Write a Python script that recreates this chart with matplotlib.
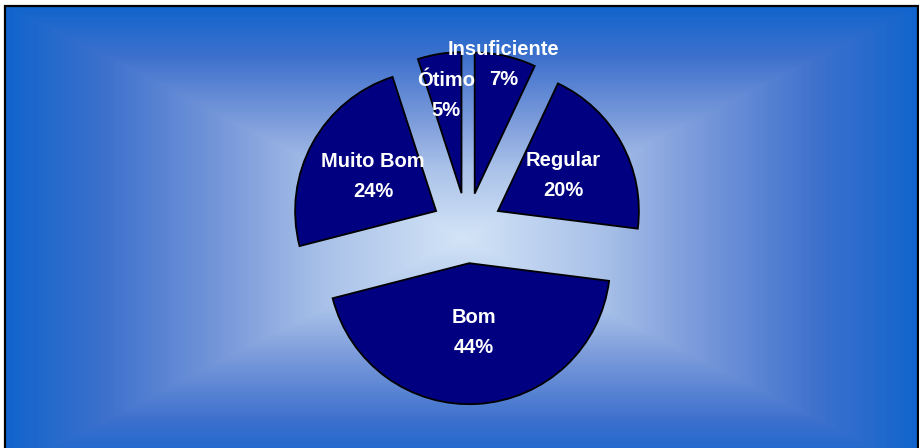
import numpy as np
import matplotlib
matplotlib.use("Agg")
import matplotlib.pyplot as plt
from matplotlib.colors import LinearSegmentedColormap
from matplotlib.patches import Rectangle

# survey results, clockwise from 12 o'clock
categories = ["Insuficiente", "Regular", "Bom", "Muito Bom", "Ótimo"]
percents = [7, 20, 44, 24, 5]

# where each label sits along its slice bisector (fraction of radius)
label_dist = [1.19, 0.78, 0.74, 0.76, 0.95]

W, H = 920, 448
CX, CY = 467, 228   # pie centre in pixels, y from top
R = 141             # pie radius in pixels
LINE_GAP = 15 / R   # half the distance between label lines


def px(x, y):
    """pixel coords (y down) -> data coords"""
    return (x - CX) / R, (CY - y) / R


plt.rcParams["font.family"] = ["Liberation Sans", "DejaVu Sans"]

fig = plt.figure(figsize=(W / 100, H / 100), dpi=100)
fig.patch.set_facecolor("white")
ax = fig.add_axes([0, 0, 1, 1])

# rectangular "from centre" gradient behind the pie
bx0, by0, bx1, by1 = 5, 6, 918, 470
gcx, gcy, hw, hh = 462, 238, 457, 232
xs = np.arange(bx0, bx1)
ys = np.arange(by0, by1)
XX, YY = np.meshgrid(xs, ys)
t = np.maximum(np.abs(XX - gcx) / hw, np.abs(YY - gcy) / hh).clip(0, 1)
cmap = LinearSegmentedColormap.from_list(
    "bg",
    [(0.0, "#d3e4f7"), (0.3, "#aac2e9"), (0.5, "#7d9cdb"),
     (0.78, "#3e71cd"), (1.0, "#1064cc")],
)
l, top = px(bx0, by0)
r, bot = px(bx1, by1)
ax.imshow(t, cmap=cmap, vmin=0, vmax=1, extent=(l, r, bot, top),
          origin="upper", interpolation="bilinear", zorder=0)
ax.add_patch(Rectangle((l, bot), r - l, top - bot, fill=False,
                       edgecolor="black", linewidth=1.6, zorder=1))

wedges, _ = ax.pie(
    percents,
    explode=[0.25] * len(percents),
    startangle=90,
    counterclock=False,
    colors=["#000080"] * len(percents),
    wedgeprops=dict(edgecolor="black", linewidth=1.3, zorder=2),
)

txt = dict(ha="center", va="center", color="white", fontsize=14.5,
           fontweight="bold", zorder=3)
for w, name, p, d in zip(wedges, categories, percents, label_dist):
    mid = np.deg2rad((w.theta1 + w.theta2) / 2)
    lx, ly = d * np.cos(mid), d * np.sin(mid)
    ax.text(lx, ly + LINE_GAP, name, **txt)
    ax.text(lx, ly - LINE_GAP, f"{p}%", **txt)

ax.set_aspect("auto")
ax.set_xlim(-CX / R, (W - CX) / R)
ax.set_ylim(-(H - CY) / R, CY / R)
ax.axis("off")

fig.savefig("out.png", dpi=100)
